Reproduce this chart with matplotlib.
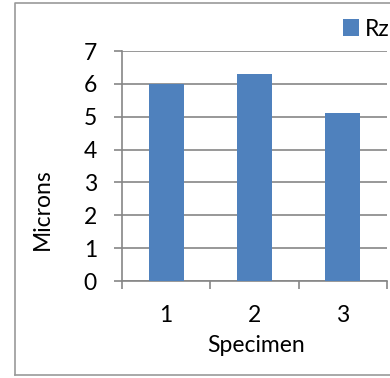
import matplotlib
matplotlib.use("Agg")
import matplotlib.pyplot as plt
from matplotlib.lines import Line2D

specimens = ["1", "2", "3"]
rz_values = [6.0, 6.3, 5.1]
y_ticks = [0, 1, 2, 3, 4, 5, 6, 7]

BAR_COLOR = "#4F81BD"
GRID_COLOR = "#868686"
FONT = ["Lato", "DejaVu Sans"]
FS = 16.5

W, H = 390, 378
fig = plt.figure(figsize=(W / 100, H / 100), dpi=100)
plt.rcParams["font.family"] = FONT

# chart area border (continues past the right edge)
fig.add_artist(Line2D([15 / W, 15 / W, 1.02], [3 / H, (H - 3) / H, (H - 3) / H],
                      transform=fig.transFigure, color="#9a9a9a", lw=1.2))
fig.add_artist(Line2D([15 / W, 1.02], [3 / H, 3 / H],
                      transform=fig.transFigure, color="#9a9a9a", lw=1.2))

left, right = 122 / W, 387 / W
bottom, top = (H - 281) / H, (H - 51) / H
ax = fig.add_axes([left, bottom, right - left, top - bottom])

x = list(range(1, len(specimens) + 1))
bars = ax.bar(x, rz_values, width=0.4, color=BAR_COLOR, label="Rz", zorder=3)

ax.set_xlim(0.5, len(specimens) + 0.5)
ax.set_ylim(0, 7)
ax.set_yticks(y_ticks)
ax.set_yticklabels([str(t) for t in y_ticks], fontsize=FS)

# category boundaries get tick marks, centers get the labels
ax.set_xticks([i + 0.5 for i in range(0, len(specimens) + 1)])
ax.set_xticklabels([])
ax.set_xticks(x, minor=True)
ax.set_xticklabels(specimens, minor=True, fontsize=FS)
ax.tick_params(axis="x", which="major", length=6, width=1.2, color=GRID_COLOR, direction="out")
ax.tick_params(axis="x", which="minor", length=0, pad=17)
ax.tick_params(axis="y", length=6, width=1.2, color=GRID_COLOR, direction="out", pad=12)

ax.grid(axis="y", color=GRID_COLOR, lw=1.2, zorder=0)
ax.set_axisbelow(True)
for s in ["top", "right"]:
    ax.spines[s].set_visible(False)
for s in ["left", "bottom"]:
    ax.spines[s].set_color(GRID_COLOR)
    ax.spines[s].set_linewidth(1.2)

fig.text(256 / W, (H - 345) / H, "Specimen", fontsize=FS, ha="center", va="center")
fig.text(42 / W, (H - 209) / H, "Microns", fontsize=FS, ha="center", va="center", rotation=90)

ax.legend(loc="center left", bbox_to_anchor=(343 / W, (H - 29) / H),
          bbox_transform=fig.transFigure, frameon=False, fontsize=FS,
          borderpad=0, borderaxespad=0, handlelength=0.7, handleheight=0.7,
          handletextpad=0.25)

fig.savefig("out.png", dpi=100)
